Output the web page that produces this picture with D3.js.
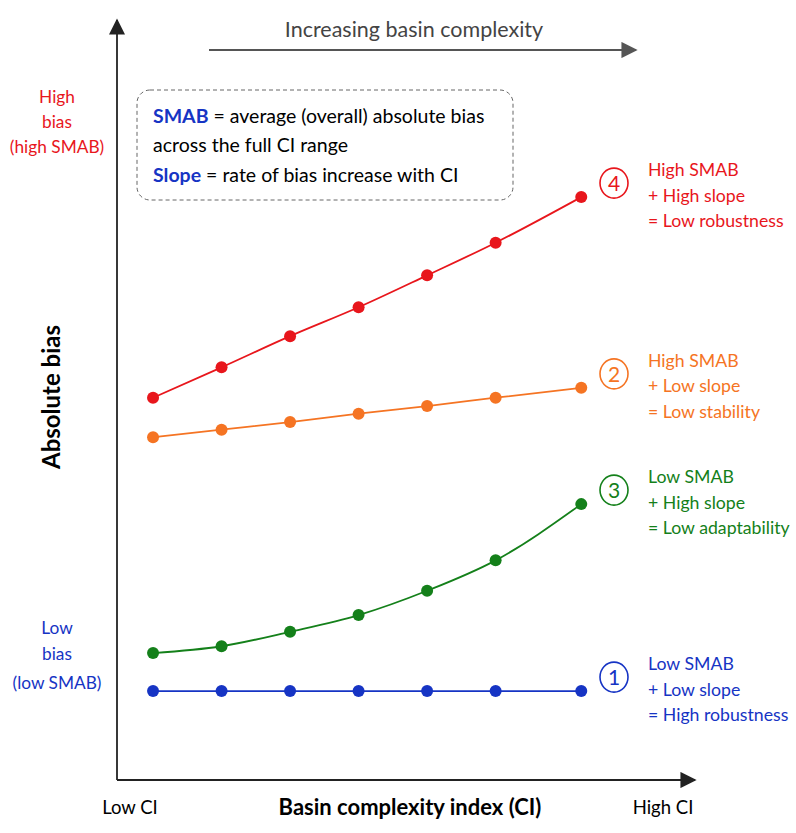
<!DOCTYPE html>
<html><head><meta charset="utf-8">
<script src="https://cdn.jsdelivr.net/npm/d3@7"></script>
<style>body{margin:0;background:#fff}text{font-family:Lato,"Open Sans",sans-serif}</style>
</head><body><svg id="c" width="796" height="833"></svg>
<script>
const ciPositions = [1, 2, 3, 4, 5, 6, 7.25];
const seriesNames = ["1", "2", "3", "4"];
const blueBias   = [11.7, 11.7, 11.7, 11.7, 11.7, 11.7, 11.7];
const orangeBias = [45.1, 46.1, 47.1, 48.2, 49.2, 50.3, 51.6];
const greenBias  = [16.7, 17.6, 19.5, 21.7, 24.9, 28.9, 36.3];
const redBias    = [50.3, 54.3, 58.4, 62.2, 66.4, 70.7, 76.7];
const labels = {
  "4": ["High SMAB", "+ High slope", "= Low robustness"],
  "2": ["High SMAB", "+ Low slope", "= Low stability"],
  "3": ["Low SMAB", "+ High slope", "= Low adaptability"],
  "1": ["Low SMAB", "+ Low slope", "= High robustness"]
};
const series = [
  {id:"4", vals:redBias, color:"#e8161c"},
  {id:"2", vals:orangeBias, color:"#f57423"},
  {id:"3", vals:greenBias, color:"#14801a"},
  {id:"1", vals:blueBias, color:"#1634c4"}
];
const svg = d3.select("#c");
const x = d3.scaleLinear().domain([0.474, 8.91]).range([117, 695]);
const y = d3.scaleLinear().domain([0, 100]).range([780, 20]);
const defs = svg.append("defs");
defs.append("marker").attr("id","ah").attr("viewBox","0 0 10 10").attr("refX",9).attr("refY",5)
  .attr("markerWidth",9).attr("markerHeight",9).attr("orient","auto-start-reverse")
  .append("path").attr("d","M0,0L10,5L0,10z").attr("fill","#222");
defs.append("marker").attr("id","ah2").attr("viewBox","0 0 10 10").attr("refX",9).attr("refY",5)
  .attr("markerWidth",9).attr("markerHeight",9).attr("orient","auto")
  .append("path").attr("d","M0,0L10,5L0,10z").attr("fill","#555");
svg.append("line").attr("x1",x.range()[0]).attr("x2",x.range()[1]).attr("y1",y(0)).attr("y2",y(0))
  .attr("stroke","#222").attr("stroke-width",1.8).attr("marker-end","url(#ah)");
svg.append("line").attr("x1",x.range()[0]).attr("x2",x.range()[0]).attr("y1",y(0)).attr("y2",y(100))
  .attr("stroke","#222").attr("stroke-width",1.8).attr("marker-end","url(#ah)");
svg.append("text").attr("x",410).attr("y",815).attr("text-anchor","middle").attr("font-size",22).attr("font-weight","bold").text("Basin complexity index (CI)");
svg.append("text").attr("x",130).attr("y",814).attr("text-anchor","middle").attr("font-size",18.5).text("Low CI");
svg.append("text").attr("x",663).attr("y",814).attr("text-anchor","middle").attr("font-size",18.5).text("High CI");
svg.append("text").attr("transform","translate(60,397) rotate(-90)").attr("text-anchor","middle").attr("font-size",24).attr("font-weight","bold").text("Absolute bias");
[["High",103],["bias",128],["(high SMAB)",153]].forEach(d=>svg.append("text").attr("x",57).attr("y",d[1]).attr("text-anchor","middle").attr("font-size",17.3).attr("fill","#e8161c").text(d[0]));
[["Low",634],["bias",660],["(low SMAB)",689]].forEach(d=>svg.append("text").attr("x",57).attr("y",d[1]).attr("text-anchor","middle").attr("font-size",17.3).attr("fill","#1634c4").text(d[0]));
svg.append("line").attr("x1",209).attr("x2",636).attr("y1",50).attr("y2",50).attr("stroke","#555").attr("stroke-width",1.8).attr("marker-end","url(#ah2)");
svg.append("text").attr("x",414).attr("y",37).attr("text-anchor","middle").attr("font-size",21.5).attr("fill","#444").text("Increasing basin complexity");
svg.append("rect").attr("x",137).attr("y",90).attr("width",376).attr("height",110).attr("rx",13)
  .attr("fill","none").attr("stroke","#666").attr("stroke-dasharray","4,3");
const t1 = svg.append("text").attr("x",153).attr("y",123).attr("font-size",19.5);
t1.append("tspan").attr("fill","#1634c4").attr("font-weight","bold").text("SMAB");
t1.append("tspan").text(" = average (overall) absolute bias");
svg.append("text").attr("x",153).attr("y",152).attr("font-size",19.5).text("across the full CI range");
const t3 = svg.append("text").attr("x",153).attr("y",182).attr("font-size",19.5);
t3.append("tspan").attr("fill","#1634c4").attr("font-weight","bold").text("Slope");
t3.append("tspan").text(" = rate of bias increase with CI");
const line = d3.line().x((d,i)=>x(ciPositions[i])).y(d=>y(d)).curve(d3.curveMonotoneX);
series.forEach(s=>{
  const g = svg.append("g");
  g.append("path").attr("d",line(s.vals)).attr("fill","none").attr("stroke",s.color).attr("stroke-width",1.8);
  g.selectAll("circle").data(s.vals).join("circle").attr("cx",(d,i)=>x(ciPositions[i])).attr("cy",d=>y(d)).attr("r",6).attr("fill",s.color);
  const ly = y(s.vals[s.vals.length-1]) - 14;
  g.append("ellipse").attr("cx",614).attr("cy",ly).attr("rx",14).attr("ry",15).attr("fill","none").attr("stroke",s.color).attr("stroke-width",1.6);
  g.append("text").attr("x",614).attr("y",ly+8).attr("text-anchor","middle").attr("font-size",21).attr("fill",s.color).text(s.id);
  labels[s.id].forEach((t,k)=>g.append("text").attr("x",648).attr("y",ly-7+k*25.5).attr("font-size",17.7).attr("fill",s.color).text(t));
});
</script></body></html>
